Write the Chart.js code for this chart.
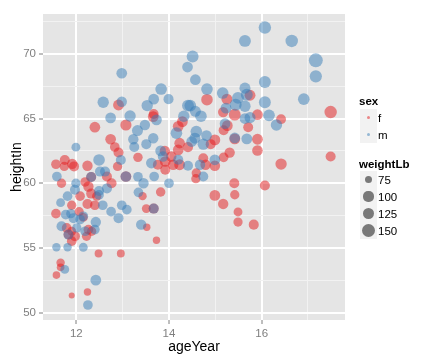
<!DOCTYPE html>
<html>
<head>
<meta charset="utf-8">
<script src="https://cdn.jsdelivr.net/npm/chart.js@4.4.0/dist/chart.umd.min.js"></script>
<style>
  body { margin: 0; background: #fff; font-family: "Liberation Sans", Arial, sans-serif; }
  #wrap { position: relative; width: 432px; height: 360px; }
  #wrap canvas { position: absolute; left: 0; top: 0; }
  .ttl { position: absolute; left: 359px; font-size: 11.5px; font-weight: bold; color: #000; line-height: 14px; }
  .key { position: absolute; left: 360px; width: 17px; height: 17px; background: #F2F2F2; }
  .key span { position: absolute; border-radius: 50%; }
  .lab { position: absolute; left: 378px; font-size: 11.5px; color: #000; line-height: 14px; }
</style>
</head>
<body>
<div id="wrap">
  <canvas id="chart" width="432" height="360"></canvas>
  <div id="legend"></div>
</div>
<script>
// female points: age (years), height (in), weight (lb)
const femaleAge = [12.91, 14.82, 15.25, 15.75, 15.17, 15.42, 13.67, 17.49, 15.91, 16.42,
  12.40, 13.07, 12.74, 12.83, 12.91, 13.33, 11.56, 11.75, 11.74, 11.91,
  11.95, 12.24, 12.89, 12.66, 11.68, 12.19, 12.26, 12.76, 12.32, 13.43,
  12.08, 12.44, 11.90, 12.24, 12.40, 11.56, 12.06, 13.66, 14.20, 14.29,
  15.18, 15.26, 15.71, 14.99, 14.90, 15.42, 14.23, 14.41, 14.20, 15.31,
  15.18, 13.91, 13.76, 13.92, 14.05, 14.09, 14.23, 13.92, 14.74, 14.79,
  14.99, 14.59, 14.58, 13.82, 15.41, 15.42, 14.99, 15.17, 15.49, 13.51,
  16.42, 15.91, 15.91, 17.49, 16.07, 12.15, 11.79, 12.26, 12.33, 11.90,
  11.97, 12.22, 11.90, 12.48, 12.96, 11.66, 11.66, 11.57, 12.24, 11.90,
  13.52, 11.83, 13.73, 15.49, 15.83, 13.07, 13.67, 12.32];
const femaleHeight = [66.05, 66.46, 66.5, 66.8, 65.5, 65.3, 65.35, 65.5, 65.3, 64.95,
  64.33, 64.5, 63.4, 62.8, 62.37, 62.0, 61.47, 61.8, 61.3, 61.5,
  61.3, 61.35, 61.3, 60.52, 60.0, 60.1, 59.75, 60.0, 59.2, 59.0,
  59.0, 59.0, 58.3, 58.4, 58.3, 57.65, 57.8, 65.15, 64.4, 64.76,
  64.1, 64.45, 64.33, 63.35, 63.02, 63.43, 63.1, 62.79, 62.58, 62.37,
  62.0, 62.5, 61.43, 61.68, 62.07, 61.43, 61.43, 61.04, 61.94, 61.43,
  61.35, 60.79, 60.35, 59.32, 60.0, 59.11, 59.06, 58.4, 57.78, 58.04,
  61.48, 63.4, 62.53, 62.07, 59.83, 57.36, 56.55, 56.42, 56.29, 56.29,
  55.9, 55.9, 55.52, 54.57, 54.57, 53.85, 53.5, 52.9, 51.59, 51.33,
  56.6, 56.03, 55.59, 57.0, 56.8, 60.52, 58.04, 60.48];
const femaleWeight = [112, 123, 112, 112, 105, 130, 98, 140, 110, 97,
  110, 118, 110, 95, 100, 92, 95, 100, 90, 105,
  100, 105, 90, 100, 90, 93, 105, 100, 100, 78,
  95, 90, 90, 100, 95, 95, 90, 110, 112, 110,
  100, 110, 98, 112, 100, 112, 108, 100, 110, 105,
  95, 105, 100, 110, 105, 108, 112, 100, 98, 105,
  108, 92, 90, 92, 100, 90, 110, 105, 85, 85,
  120, 112, 108, 100, 100, 85, 95, 95, 90, 85,
  100, 90, 95, 75, 75, 80, 72, 72, 70, 60,
  70, 98, 70, 90, 100, 110, 100, 100];

// male points
const maleAge = [12.98, 12.58, 12.98, 13.53, 12.74, 13.16, 15.64, 14.51, 14.40, 14.57,
  13.83, 14.82, 13.67, 13.99, 14.41, 14.46, 14.57, 15.16, 15.49, 15.44,
  15.64, 15.68, 15.64, 15.23, 14.32, 14.69, 16.07, 16.65, 17.17, 17.17,
  16.07, 16.91, 16.07, 16.16, 13.32, 13.48, 13.23, 13.25, 11.99, 12.49,
  12.96, 12.51, 12.32, 12.62, 13.07, 11.58, 11.99, 12.66, 12.49, 12.49,
  13.33, 13.45, 13.34, 11.97, 11.66, 12.57, 11.81, 12.98, 13.09, 12.75,
  11.77, 11.88, 12.15, 12.91, 13.73, 15.21, 15.64, 14.16, 14.59, 14.81,
  14.56, 14.49, 14.74, 15.42, 15.68, 13.66, 13.51, 13.82, 13.87, 13.62,
  14.20, 14.41, 14.67, 14.99, 14.74, 13.68, 14.00, 13.67, 15.75, 16.32,
  11.94, 12.08, 12.42, 11.68, 12.01, 12.19, 12.40, 11.83, 11.57, 11.81,
  12.15, 13.40, 11.75, 12.42, 12.25];
const maleHeight = [68.5, 66.26, 66.3, 66.0, 65.05, 65.2, 71.0, 69.8, 68.98, 68.0,
  67.28, 67.28, 66.5, 66.5, 66.0, 66.0, 65.56, 66.97, 66.6, 66.07,
  67.35, 66.84, 65.95, 65.8, 65.18, 65.18, 72.03, 71.0, 69.5, 68.26,
  67.82, 66.5, 66.26, 65.25, 64.07, 64.5, 63.4, 62.8, 62.79, 61.8,
  61.8, 60.9, 60.48, 60.9, 60.52, 60.52, 60.0, 59.6, 59.4, 59.1,
  60.5, 60.0, 59.3, 59.5, 58.5, 58.3, 59.0, 58.3, 57.96, 57.8,
  57.57, 57.65, 57.45, 57.3, 64.9, 64.6, 65.0, 63.87, 63.99, 63.68,
  63.48, 63.22, 63.02, 63.5, 63.43, 63.48, 63.02, 62.5, 62.07, 61.56,
  61.81, 61.35, 61.43, 61.81, 60.52, 60.52, 60.0, 58.04, 65.07, 64.5,
  57.3, 57.2, 57.0, 56.67, 56.55, 56.29, 56.42, 56.03, 55.05, 55.05,
  55.05, 56.8, 53.34, 52.51, 50.59];
const maleWeight = [110, 120, 105, 120, 110, 120, 130, 130, 110, 110,
  125, 125, 110, 100, 130, 125, 115, 125, 130, 130,
  115, 130, 120, 112, 120, 125, 140, 140, 170, 135,
  130, 125, 130, 125, 115, 105, 105, 100, 85, 125,
  100, 100, 100, 100, 110, 95, 90, 100, 100, 95,
  95, 105, 95, 100, 85, 95, 95, 95, 95, 95,
  95, 90, 95, 100, 110, 110, 110, 125, 125, 110,
  115, 110, 120, 110, 112, 105, 100, 110, 105, 110,
  100, 100, 105, 110, 100, 95, 95, 100, 115, 120,
  100, 95, 105, 100, 90, 95, 95, 100, 80, 80,
  85, 105, 85, 110, 95];

const xTicks = [12, 14, 16];
const yTicks = [50, 55, 60, 65, 70];
const weightBreaks = [75, 100, 125, 150];

// area-style size scale like ggplot's scale_size
function pointRadius(w) {
  const size = 1 + 5 * Math.sqrt((w - 50.5) / 121);
  return (0.8 + 2.2 * size) / 2;
}

function toPoints(ages, heights, weights) {
  return ages.map((a, i) => ({ x: a, y: heights[i], r: pointRadius(weights[i]) }));
}

const panelBg = {
  id: "panelBg",
  beforeDraw(chart) {
    const a = chart.chartArea;
    chart.ctx.save();
    chart.ctx.fillStyle = "#E5E5E5";
    chart.ctx.fillRect(a.left, a.top, a.right - a.left, a.bottom - a.top);
    chart.ctx.restore();
  }
};

Chart.defaults.font.family = "'Liberation Sans', Arial, sans-serif";

function axis(major, min, max, step, titleText, titlePad, fitFn) {
  return {
    type: "linear",
    min: min,
    max: max,
    border: { display: false },
    grid: {
      color: c => (c.tick && major.includes(c.tick.value)) ? "#FFFFFF" : "#F2F2F2",
      lineWidth: c => (c.tick && major.includes(c.tick.value)) ? 2 : 1,
      tickColor: c => (c.tick && major.includes(c.tick.value)) ? "#7F7F7F" : "rgba(0,0,0,0)",
      tickLength: 4,
      tickWidth: 1
    },
    ticks: {
      stepSize: step,
      includeBounds: false,
      autoSkip: false,
      maxRotation: 0,
      padding: 3,
      color: "#7F7F7F",
      font: { size: 11.5 },
      callback: v => major.includes(v) ? String(v) : ""
    },
    title: {
      display: true,
      text: titleText,
      color: "#000",
      font: { size: 14, lineHeight: 1.2 },
      padding: titlePad
    },
    afterFit: fitFn
  };
}

new Chart(document.getElementById("chart"), {
  type: "bubble",
  data: {
    datasets: [
      {
        label: "f",
        data: toPoints(femaleAge, femaleHeight, femaleWeight),
        backgroundColor: "rgba(228,26,28,0.5)",
        borderWidth: 0,
        order: 1
      },
      {
        label: "m",
        data: toPoints(maleAge, maleHeight, maleWeight),
        backgroundColor: "rgba(55,126,184,0.5)",
        borderWidth: 0,
        order: 0
      }
    ]
  },
  options: {
    responsive: false,
    animation: false,
    layout: { padding: { left: 0, top: 14, right: 87, bottom: 0 } },
    plugins: { legend: { display: false }, tooltip: { enabled: false } },
    scales: {
      x: axis(xTicks, 11.28, 17.8, 1, "ageYear", { top: 0, bottom: 4.6 }, s => { s.height = 40; }),
      y: axis(yTicks, 49.43, 73.08, 2.5, "heightIn", { top: 8.6, bottom: 0 }, s => { s.width = 43; })
    }
  },
  plugins: [panelBg]
});

// legend drawn as html next to the panel
const legend = document.getElementById("legend");
let html = '<div class="ttl" style="top:94px">sex</div>';
[["f", "rgba(228,26,28,0.5)", 109], ["m", "rgba(55,126,184,0.5)", 126]].forEach(([t, col, top]) => {
  html += `<div class="key" style="top:${top}px"><span style="left:6.75px;top:6.75px;width:3.5px;height:3.5px;background:${col}"></span></div>`;
  html += `<div class="lab" style="top:${top + 1.5}px">${t}</div>`;
});
html += '<div class="ttl" style="top:157px">weightLb</div>';
weightBreaks.forEach((w, i) => {
  const top = 171 + i * 17;
  const d = pointRadius(w) * 2;
  html += `<div class="key" style="top:${top}px"><span style="left:${8.5 - d / 2}px;top:${8.5 - d / 2}px;width:${d}px;height:${d}px;background:rgba(0,0,0,0.5)"></span></div>`;
  html += `<div class="lab" style="top:${top + 1.5}px">${w}</div>`;
});
legend.innerHTML = html;
</script>
</body>
</html>
